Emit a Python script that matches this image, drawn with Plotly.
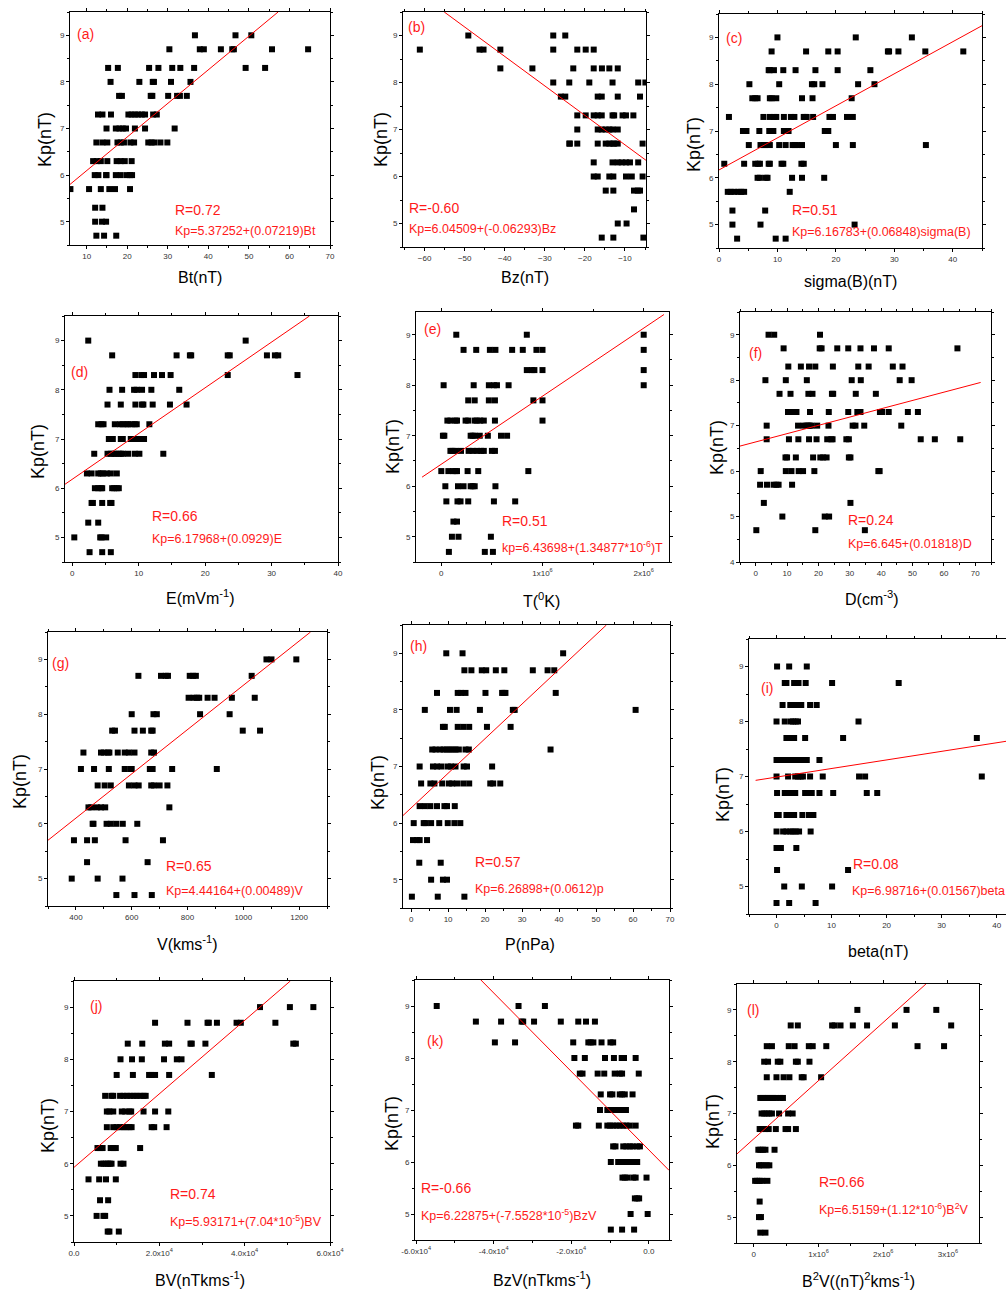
import plotly.graph_objects as go

W, H = 1006, 1296

# ---------------- data (Kp level, x values) ----------------
bt_rows = [
    (9.0, [36.7, 46.7, 50.6]),
    (8.7, [30.4, 37.9, 38.9, 43.1, 45.9, 46.3, 55.7, 64.6]),
    (8.3, [15.3, 17.7, 25.4, 27.7, 31.1, 33.1, 36.5, 49.2, 54.0]),
    (8.0, [15.9, 23.0, 26.3, 26.6, 30.8, 35.6]),
    (7.7, [18.0, 18.7, 25.8, 26.2, 30.1, 32.3, 33.0, 34.7]),
    (7.3, [12.8, 13.9, 16.0, 20.3, 21.1, 21.9, 22.7, 23.6, 24.4, 26.4, 27.3]),
    (7.0, [14.9, 17.2, 18.1, 18.9, 19.7, 21.9, 24.4, 31.7]),
    (6.7, [12.4, 13.9, 15.1, 17.6, 18.4, 19.2, 20.8, 21.7, 25.2, 26.0, 26.7, 28.2, 29.9]),
    (6.3, [11.6, 12.5, 13.5, 15.1, 17.4, 18.4, 19.4, 21.1]),
    (6.0, [12.0, 12.9, 14.8, 14.9, 17.2, 18.4, 19.9, 20.7, 21.2]),
    (5.7, [6.0, 10.6, 13.5, 15.6, 17.0, 20.7]),
    (5.3, [12.1, 13.9]),
    (5.0, [12.1, 13.8, 14.8]),
    (4.7, [12.4, 14.3, 17.3]),
]
bt_fit = ([5.9, 57.2], [5.80, 9.5])

bz_rows = [
    (9.0, [-49.1, -27.9, -24.9]),
    (8.7, [-61.2, -46.3, -45.3, -41.1, -27.9, -21.9, -19.8, -17.8]),
    (8.3, [-41.1, -33.1, -22.9, -17.8, -15.75, -13.9, -11.8]),
    (8.0, [-27.9, -23.9, -18.9, -13.1, -6.7, -4.9]),
    (7.7, [-26.0, -24.9, -16.8, -15.8, -11.8, -6.25]),
    (7.3, [-21.9, -19.8, -17.8, -16.8, -15.8, -13.1, -12.7, -10.6, -9.75, -7.9]),
    (7.0, [-21.9, -16.8, -15.8, -14.8, -13.9, -13.1, -11.8]),
    (6.7, [-23.9, -23.75, -21.9, -16.8, -14.8, -13.9, -13.1, -12.7, -11.8, -5.6]),
    (6.3, [-17.8, -13.1, -11.8, -10.8, -9.75, -8.75, -6.7]),
    (6.0, [-17.8, -16.8, -13.9, -12.9, -9.75, -8.3, -5.6]),
    (5.7, [-14.8, -12.9, -7.75, -6.8, -6.25]),
    (5.3, [-7.75]),
    (5.0, [-11.8, -9.6]),
    (4.7, [-15.8, -12.9, -5.4]),
]
bz_fit = ([-55.1, -4.75], [9.5, 6.345])

sig_rows = [
    (9.0, [10.0, 23.4, 33.0]),
    (8.7, [9.0, 14.9, 18.7, 20.3, 28.9, 29.1, 30.7, 35.3, 41.8]),
    (8.3, [8.5, 8.7, 9.4, 11.0, 13.1, 16.5, 20.3, 25.9]),
    (8.0, [5.2, 10.3, 15.9, 16.3, 17.7, 23.8, 26.6]),
    (7.7, [5.7, 6.2, 6.6, 8.7, 9.0, 9.8, 14.2, 16.0, 22.7]),
    (7.3, [1.7, 7.6, 8.7, 9.4, 9.8, 11.1, 12.3, 12.9, 14.5, 14.7, 15.0, 16.1, 18.9, 19.5, 21.9, 22.9]),
    (7.0, [4.1, 4.7, 6.9, 8.6, 9.0, 9.3, 11.1, 11.7, 11.9, 18.1, 18.7]),
    (6.7, [5.1, 7.1, 7.7, 8.0, 8.7, 10.3, 11.4, 12.6, 13.0, 13.4, 14.2, 20.0, 22.9, 35.4]),
    (6.3, [0.9, 4.3, 6.2, 6.7, 7.0, 8.5, 8.7, 10.7, 11.0, 14.1, 14.5]),
    (6.0, [6.6, 7.0, 8.0, 8.3, 12.5, 14.2, 18.0]),
    (5.7, [1.5, 2.0, 2.6, 3.3, 3.8, 4.3, 12.1]),
    (5.3, [2.3, 7.9]),
    (5.0, [2.3, 7.1, 23.2]),
    (4.7, [3.1, 9.7, 11.4]),
]
sig_fit = ([0.0, 45.0], [6.168, 9.25])

e_rows = [
    (9.0, [2.4, 26.1]),
    (8.7, [6.0, 15.7, 17.7, 17.9, 23.4, 23.7, 29.3, 30.5, 31.0]),
    (8.3, [9.5, 10.4, 10.8, 12.3, 13.5, 14.8, 23.4, 33.9]),
    (8.0, [5.6, 7.5, 9.3, 9.7, 10.5, 11.9, 16.1]),
    (7.7, [5.3, 7.3, 9.5, 10.5, 10.7, 12.1, 14.7, 17.2]),
    (7.3, [3.9, 4.4, 4.7, 6.4, 7.2, 7.6, 8.1, 8.4, 8.9, 9.4, 9.7, 11.6]),
    (7.0, [5.5, 5.8, 6.1, 7.3, 7.6, 8.8, 9.2, 10.0, 10.2, 10.8]),
    (6.7, [3.3, 5.3, 5.8, 6.2, 6.5, 7.0, 7.3, 7.6, 8.4, 9.4, 10.1, 13.7]),
    (6.3, [2.2, 2.9, 3.9, 4.3, 4.6, 5.2, 5.8, 6.7]),
    (6.0, [3.4, 3.9, 4.3, 4.5, 6.0, 6.3, 6.7, 7.0]),
    (5.7, [2.9, 3.1, 4.5, 5.7, 5.9]),
    (5.3, [2.4, 3.9]),
    (5.0, [0.3, 4.2, 4.4, 5.1]),
    (4.7, [2.6, 4.5, 5.8]),
]
e_fit = ([-1.1, 35.7], [6.08, 9.5])

t_rows = [
    (9.0, [0.148e6, 0.845e6, 2.0e6]),
    (8.7, [0.22e6, 0.345e6, 0.48e6, 0.535e6, 0.70e6, 0.805e6, 0.94e6, 1.0e6, 2.0e6]),
    (8.3, [0.845e6, 0.895e6, 0.92e6, 1.0e6, 2.0e6]),
    (8.0, [0.023e6, 0.32e6, 0.47e6, 0.52e6, 0.55e6, 0.665e6, 2.0e6]),
    (7.7, [0.266e6, 0.33e6, 0.47e6, 0.53e6, 0.91e6, 1.0e6]),
    (7.3, [0.06e6, 0.09e6, 0.14e6, 0.155e6, 0.24e6, 0.266e6, 0.33e6, 0.35e6, 0.385e6, 0.42e6, 0.53e6, 1.0e6]),
    (7.0, [0.016e6, 0.03e6, 0.29e6, 0.31e6, 0.33e6, 0.38e6, 0.46e6, 0.59e6, 0.65e6]),
    (6.7, [0.09e6, 0.11e6, 0.14e6, 0.195e6, 0.27e6, 0.31e6, 0.355e6, 0.395e6, 0.42e6, 0.50e6, 0.53e6]),
    (6.3, [0.0, 0.07e6, 0.115e6, 0.14e6, 0.155e6, 0.26e6, 0.365e6, 0.86e6]),
    (6.0, [0.04e6, 0.165e6, 0.22e6, 0.29e6, 0.31e6, 0.33e6, 0.535e6]),
    (5.7, [0.05e6, 0.16e6, 0.19e6, 0.266e6, 0.52e6, 0.73e6]),
    (5.3, [0.12e6, 0.155e6]),
    (5.0, [0.105e6, 0.17e6, 0.49e6]),
    (4.7, [0.075e6, 0.43e6, 0.51e6]),
]
t_fit = ([-0.19e6, 2.2e6], [6.18, 9.40])

d_rows = [
    (9.0, [4.1, 5.9, 20.5]),
    (8.7, [8.9, 20.4, 21.0, 26.0, 29.5, 33.4, 37.7, 42.4, 64.3]),
    (8.3, [10.4, 14.4, 17.0, 19.0, 24.6, 32.7, 36.0, 43.7, 46.8]),
    (8.0, [3.1, 9.6, 16.3, 30.6, 33.5, 45.9, 49.7]),
    (7.7, [7.6, 11.1, 16.8, 18.1, 24.3, 24.7, 31.9, 38.3]),
    (7.3, [10.3, 10.9, 12.1, 13.0, 17.3, 23.3, 29.5, 32.4, 33.4, 39.6, 40.3, 42.4, 48.5, 51.7]),
    (7.0, [3.5, 13.5, 15.3, 16.2, 16.8, 17.2, 17.8, 19.6, 23.2, 30.9, 31.8, 34.6, 46.4]),
    (6.7, [3.5, 10.6, 13.6, 17.0, 19.4, 22.8, 24.1, 24.5, 28.9, 29.7, 52.6, 57.1, 65.2]),
    (6.3, [9.5, 10.0, 12.8, 18.3, 20.6, 21.5, 22.6, 29.7, 30.2]),
    (6.0, [1.6, 9.6, 11.4, 13.7, 15.1, 18.7, 39.1, 39.5]),
    (5.7, [1.4, 3.6, 5.7, 6.6, 7.3, 11.6]),
    (5.3, [2.6, 30.2]),
    (5.0, [8.5, 22.0, 23.4]),
    (4.7, [0.2, 19.0, 34.8]),
]
d_fit = ([-5.0, 71.7], [6.55, 7.95])

v_rows = [
    (9.0, [1083, 1101, 1190]),
    (8.7, [624, 705, 722, 730, 808, 820, 830, 1030]),
    (8.3, [804, 822, 834, 842, 872, 897, 959, 1041]),
    (8.0, [600, 678, 690, 845, 951]),
    (7.7, [530, 540, 610, 640, 670, 675, 998, 1060]),
    (7.3, [427, 490, 500, 515, 520, 550, 575, 590, 610, 670, 680]),
    (7.0, [418, 465, 518, 575, 595, 600, 665, 675, 745, 905]),
    (6.7, [478, 503, 525, 590, 610, 625, 670, 680, 700, 728]),
    (6.3, [445, 455, 475, 490, 505, 735]),
    (6.0, [460, 463, 510, 525, 545, 568, 620]),
    (5.7, [393, 440, 468, 578, 712]),
    (5.3, [440, 657]),
    (5.0, [385, 478, 567]),
    (4.7, [545, 610, 672]),
]
v_fit = ([300, 1241], [5.7, 9.5])

p_rows = [
    (9.0, [9.5, 13.9, 41.1]),
    (8.7, [14.4, 16.3, 19.1, 20.3, 22.9, 25.2, 32.9, 36.9, 38.7]),
    (8.3, [7.0, 12.6, 13.5, 14.7, 20.1, 24.6, 25.0, 25.5, 39.1]),
    (8.0, [3.7, 10.5, 12.3, 18.6, 27.5, 28.0, 60.7]),
    (7.7, [8.6, 9.1, 12.6, 14.1, 15.7, 20.5, 26.9]),
    (7.3, [5.7, 6.6, 7.9, 8.8, 9.7, 10.4, 11.3, 12.0, 12.9, 14.7, 15.6, 37.7]),
    (7.0, [2.3, 5.9, 7.0, 8.2, 9.9, 10.8, 12.0, 14.2, 15.1, 21.9]),
    (6.7, [2.7, 5.2, 6.3, 8.4, 10.2, 11.1, 12.4, 14.1, 15.7, 21.4, 22.2, 24.1]),
    (6.3, [2.3, 3.7, 5.2, 7.0, 9.0, 9.7, 11.8]),
    (6.0, [0.7, 3.4, 3.9, 5.4, 7.6, 9.9, 11.7, 13.3]),
    (5.7, [0.5, 1.6, 2.3, 4.3]),
    (5.3, [2.2, 8.0]),
    (5.0, [5.4, 8.6, 9.7]),
    (4.7, [0.2, 7.2, 14.4]),
]
p_fit = ([-2.2, 52.8], [6.134, 9.5])

beta_rows = [
    (9.0, [0.1, 2.3, 5.5]),
    (8.7, [1.5, 1.8, 3.2, 3.5, 4.0, 5.3, 10.1, 22.2]),
    (8.3, [1.1, 2.5, 3.0, 3.6, 4.0, 4.5, 6.1, 7.3]),
    (8.0, [0.0, 1.5, 2.6, 3.0, 3.5, 3.9, 14.9]),
    (7.7, [1.8, 2.3, 3.0, 3.2, 5.2, 12.1, 36.4]),
    (7.3, [0.0, 0.3, 1.2, 1.5, 2.1, 2.4, 3.0, 3.6, 4.2, 4.8, 5.2, 5.5, 7.8]),
    (7.0, [0.0, 2.1, 3.4, 3.9, 4.4, 4.8, 6.1, 8.4, 15.0, 16.1, 37.3]),
    (6.7, [0.1, 1.5, 1.9, 2.4, 2.9, 3.4, 5.2, 5.8, 6.4, 7.8, 10.3, 16.4, 18.3]),
    (6.3, [0.1, 0.4, 1.8, 2.3, 2.8, 3.2, 4.7, 5.9, 6.7]),
    (6.0, [0.0, 1.2, 1.8, 2.5, 3.0, 3.5, 4.1, 6.2]),
    (5.7, [0.0, 0.4, 0.8, 3.6]),
    (5.3, [0.1, 13.0]),
    (5.0, [1.4, 4.6, 10.1]),
    (4.7, [0.0, 2.3, 7.1]),
]
beta_fit = ([-3.8, 41.7], [6.93, 7.64])

bv_rows = [
    (9.0, [4.36e4, 5.06e4, 5.61e4]),
    (8.7, [1.90e4, 2.66e4, 3.13e4, 3.16e4, 3.35e4, 3.81e4, 3.91e4, 4.72e4]),
    (8.3, [1.26e4, 1.60e4, 2.13e4, 2.23e4, 2.73e4, 2.76e4, 3.08e4, 5.14e4, 5.20e4]),
    (8.0, [1.09e4, 1.36e4, 1.59e4, 2.11e4, 2.41e4, 2.52e4]),
    (7.7, [1.00e4, 1.38e4, 1.76e4, 1.82e4, 1.90e4, 2.23e4, 3.23e4]),
    (7.3, [0.73e4, 0.875e4, 0.92e4, 1.08e4, 1.16e4, 1.24e4, 1.32e4, 1.40e4, 1.47e4, 1.55e4, 1.63e4, 1.68e4]),
    (7.0, [0.77e4, 0.83e4, 0.92e4, 1.12e4, 1.20e4, 1.30e4, 1.34e4, 1.63e4, 1.90e4, 2.21e4]),
    (6.7, [0.77e4, 0.92e4, 1.00e4, 1.08e4, 1.16e4, 1.22e4, 1.30e4, 1.35e4, 1.82e4, 1.88e4, 2.17e4]),
    (6.3, [0.55e4, 0.61e4, 0.67e4, 0.86e4, 0.92e4, 0.98e4, 1.55e4]),
    (6.0, [0.63e4, 0.69e4, 0.75e4, 0.80e4, 0.84e4, 0.88e4, 1.09e4, 1.16e4]),
    (5.7, [0.34e4, 0.59e4, 0.75e4, 0.98e4]),
    (5.3, [0.61e4, 0.80e4]),
    (5.0, [0.53e4, 0.69e4, 0.73e4]),
    (4.7, [0.79e4, 0.83e4, 1.05e4]),
]
bv_fit = ([0.0, 5.07e4], [5.93, 9.5])

bzv_rows = [
    (9.0, [-5.47e4, -3.36e4, -2.68e4]),
    (8.7, [-4.46e4, -3.81e4, -3.28e4, -3.24e4, -2.96e4, -2.27e4, -1.82e4, -1.62e4, -1.39e4]),
    (8.3, [-3.97e4, -3.45e4, -1.95e4, -1.56e4, -1.50e4, -1.43e4, -1.22e4, -0.99e4, -0.92e4]),
    (8.0, [-1.92e4, -1.65e4, -1.13e4, -0.90e4, -0.70e4, -0.64e4, -0.34e4]),
    (7.7, [-1.78e4, -1.71e4, -1.32e4, -1.15e4, -0.88e4, -0.75e4, -0.69e4, -0.26e4]),
    (7.3, [-1.24e4, -1.00e4, -0.94e4, -0.75e4, -0.69e4, -0.62e4, -0.42e4]),
    (7.0, [-1.26e4, -1.07e4, -1.00e4, -0.92e4, -0.83e4, -0.75e4, -0.66e4, -0.59e4]),
    (6.7, [-1.88e4, -1.82e4, -1.29e4, -1.07e4, -1.00e4, -0.92e4, -0.83e4, -0.75e4, -0.66e4, -0.58e4, -0.49e4, -0.34e4]),
    (6.3, [-0.92e4, -0.86e4, -0.66e4, -0.58e4, -0.49e4, -0.42e4, -0.30e4, -0.23e4]),
    (6.0, [-0.98e4, -0.79e4, -0.70e4, -0.64e4, -0.49e4, -0.42e4, -0.30e4]),
    (5.7, [-0.68e4, -0.62e4, -0.55e4, -0.40e4, -0.34e4, -0.06e4]),
    (5.3, [-0.36e4, -0.30e4, -0.25e4]),
    (5.0, [-0.47e4, -0.03e4]),
    (4.7, [-0.98e4, -0.69e4, -0.38e4]),
]
bzv_fit = ([-4.33e4, 0.52e4], [9.5, 5.84])

b2v_rows = [
    (9.0, [1.60e6, 2.36e6, 2.82e6]),
    (8.7, [0.57e6, 0.68e6, 1.21e6, 1.25e6, 1.34e6, 1.53e6, 1.75e6, 2.18e6, 3.05e6]),
    (8.3, [0.20e6, 0.28e6, 0.54e6, 0.63e6, 0.85e6, 0.91e6, 1.12e6, 2.53e6, 2.94e6]),
    (8.0, [0.16e6, 0.22e6, 0.37e6, 0.41e6, 0.65e6, 0.68e6, 0.86e6]),
    (7.7, [0.20e6, 0.35e6, 0.46e6, 0.55e6, 0.74e6, 0.77e6, 1.04e6]),
    (7.3, [0.10e6, 0.14e6, 0.18e6, 0.22e6, 0.26e6, 0.30e6, 0.34e6, 0.41e6, 0.45e6]),
    (7.0, [0.12e6, 0.16e6, 0.20e6, 0.24e6, 0.28e6, 0.39e6, 0.53e6, 0.60e6]),
    (6.7, [0.09e6, 0.12e6, 0.18e6, 0.23e6, 0.34e6, 0.49e6, 0.53e6, 0.65e6]),
    (6.3, [0.07e6, 0.10e6, 0.14e6, 0.18e6, 0.32e6]),
    (6.0, [0.08e6, 0.11e6, 0.15e6, 0.20e6, 0.24e6]),
    (5.7, [0.02e6, 0.05e6, 0.09e6, 0.13e6, 0.21e6]),
    (5.3, [0.09e6]),
    (5.0, [0.08e6, 0.11e6]),
    (4.7, [0.10e6, 0.18e6]),
]
b2v_fit = ([-0.26e6, 2.66e6], [6.22, 9.5])

# ---------------- panel configuration ----------------
panels = [
    dict(rows=bt_rows, fit=bt_fit, box=(70, 330, 12, 245), xr=[5.9, 70], yr=[4.5, 9.5],
         xt=[10, 20, 30, 40, 50, 60, 70], xtt=None, xminor=5,
         xtitle="Bt(nT)", xtp=(200, 277), ytp=(45, 140),
         lab="(a)", labp=(75, 34), r="R=0.72", rp=(173, 210),
         eq="Kp=5.37252+(0.07219)Bt", eqp=(173, 231)),
    dict(rows=bz_rows, fit=bz_fit, box=(403, 646, 12, 247), xr=[-65.4, -4.75], yr=[4.5, 9.5],
         xt=[-60, -50, -40, -30, -20, -10], xtt=None, xminor=5,
         xtitle="Bz(nT)", xtp=(525, 278), ytp=(381, 140),
         lab="(b)", labp=(406, 27), r="R=-0.60", rp=(407, 208),
         eq="Kp=6.04509+(-0.06293)Bz", eqp=(407, 229)),
    dict(rows=sig_rows, fit=sig_fit, box=(719, 982, 14, 248), xr=[0, 45], yr=[4.5, 9.5],
         xt=[0, 10, 20, 30, 40], xtt=None, xminor=5,
         xtitle="sigma(B)(nT)", xtp=(850, 281), ytp=(694, 145),
         lab="(c)", labp=(724, 38), r="R=0.51", rp=(790, 210),
         eq="Kp=6.16783+(0.06848)sigma(B)", eqp=(790, 232)),
    dict(rows=e_rows, fit=e_fit, box=(65, 338, 316, 562), xr=[-1.1, 40], yr=[4.5, 9.5],
         xt=[0, 10, 20, 30, 40], xtt=None, xminor=5,
         xtitle="E(mVm<sup>-1</sup>)", xtp=(200, 597), ytp=(38, 452),
         lab="(d)", labp=(69, 372), r="R=0.66", rp=(150, 516),
         eq="Kp=6.17968+(0.0929)E", eqp=(150, 539)),
    dict(rows=t_rows, fit=t_fit, box=(416, 669, 312, 562), xr=[-0.25e6, 2.25e6], yr=[4.5, 9.45],
         xt=[0, 1e6, 2e6], xtt=["0", "1x10<sup>6</sup>", "2x10<sup>6</sup>"], xminor=0.5e6,
         xtitle="T(<sup>0</sup>K)", xtp=(541, 600), ytp=(393, 447),
         lab="(e)", labp=(422, 329), r="R=0.51", rp=(500, 521),
         eq="kp=6.43698+(1.34877*10<sup>-6</sup>)T", eqp=(500, 547)),
    dict(rows=d_rows, fit=d_fit, box=(740, 991, 312, 562), xr=[-5, 75], yr=[4, 9.5],
         xt=[0, 10, 20, 30, 40, 50, 60, 70], xtt=None, xminor=5,
         xtitle="D(cm<sup>-3</sup>)", xtp=(872, 598), ytp=(717, 448),
         lab="(f)", labp=(747, 353), r="R=0.24", rp=(846, 520),
         eq="Kp=6.645+(0.01818)D", eqp=(846, 544)),
    dict(rows=v_rows, fit=v_fit, box=(48, 327, 632, 906), xr=[300, 1300], yr=[4.5, 9.5],
         xt=[400, 600, 800, 1000, 1200], xtt=None, xminor=100,
         xtitle="V(kms<sup>-1</sup>)", xtp=(187, 943), ytp=(20, 782),
         lab="(g)", labp=(50, 663), r="R=0.65", rp=(164, 866),
         eq="Kp=4.44164+(0.00489)V", eqp=(164, 891)),
    dict(rows=p_rows, fit=p_fit, box=(403, 670, 625, 908), xr=[-2.2, 70], yr=[4.5, 9.5],
         xt=[0, 10, 20, 30, 40, 50, 60, 70], xtt=None, xminor=5,
         xtitle="P(nPa)", xtp=(530, 944), ytp=(378, 783),
         lab="(h)", labp=(408, 646), r="R=0.57", rp=(473, 862),
         eq="Kp=6.26898+(0.0612)p", eqp=(473, 889)),
    dict(rows=beta_rows, fit=beta_fit, box=(749, 1006, 639, 914), xr=[-5, 41.7], yr=[4.5, 9.5],
         xt=[0, 10, 20, 30, 40], xtt=None, xminor=5,
         xtitle="beta(nT)", xtp=(878, 951), ytp=(723, 795),
         lab="(i)", labp=(759, 688), r="R=0.08", rp=(851, 864),
         eq="Kp=6.98716+(0.01567)beta", eqp=(850, 891)),
    dict(rows=bv_rows, fit=bv_fit, box=(74, 330, 981, 1242), xr=[0, 6e4], yr=[4.5, 9.5],
         xt=[0, 2e4, 4e4, 6e4], xtt=["0.0", "2.0x10<sup>4</sup>", "4.0x10<sup>4</sup>", "6.0x10<sup>4</sup>"], xminor=1e4,
         xtitle="BV(nTkms<sup>-1</sup>)", xtp=(200, 1279), ytp=(48, 1126),
         lab="(j)", labp=(88, 1006), r="R=0.74", rp=(168, 1194),
         eq="Kp=5.93171+(7.04*10<sup>-5</sup>)BV", eqp=(168, 1221)),
    dict(rows=bzv_rows, fit=bzv_fit, box=(415, 669, 980, 1240), xr=[-6.03e4, 0.52e4], yr=[4.5, 9.5],
         xt=[-6e4, -4e4, -2e4, 0], xtt=["-6.0x10<sup>4</sup>", "-4.0x10<sup>4</sup>", "-2.0x10<sup>4</sup>", "0.0"], xminor=1e4,
         xtitle="BzV(nTkms<sup>-1</sup>)", xtp=(542, 1279), ytp=(392, 1124),
         lab="(k)", labp=(425, 1041), r="R=-0.66", rp=(419, 1188),
         eq="Kp=6.22875+(-7.5528*10<sup>-5</sup>)BzV", eqp=(419, 1215)),
    dict(rows=b2v_rows, fit=b2v_fit, box=(737, 979, 984, 1243), xr=[-0.26e6, 3.48e6], yr=[4.5, 9.5],
         xt=[0, 1e6, 2e6, 3e6], xtt=["0", "1x10<sup>6</sup>", "2x10<sup>6</sup>", "3x10<sup>6</sup>"], xminor=0.5e6,
         xtitle="B<sup>2</sup>V((nT)<sup>2</sup>kms<sup>-1</sup>)", xtp=(858, 1280), ytp=(713, 1122),
         lab="(l)", labp=(745, 1010), r="R=0.66", rp=(817, 1182),
         eq="Kp=6.5159+(1.12*10<sup>-6</sup>)B<sup>2</sup>V", eqp=(817, 1209)),
]

FONT = "Liberation Sans, Arial, sans-serif"
RED = "#ff1a1a"


def px(x):
    return x / W


def py(y):
    return 1 - y / H


fig = go.Figure()
annotations = []
layout_axes = {}

for i, p in enumerate(panels):
    n = i + 1
    xa = "x" if n == 1 else f"x{n}"
    ya = "y" if n == 1 else f"y{n}"
    xs, ys = [], []
    for kp, vals in p["rows"]:
        xs.extend(vals)
        ys.extend([kp] * len(vals))
    fig.add_trace(go.Scatter(x=xs, y=ys, mode="markers", xaxis=xa, yaxis=ya,
                             marker=dict(symbol="square", size=6, color="black",
                                         line=dict(width=0)),
                             showlegend=False, hoverinfo="skip"))
    fig.add_trace(go.Scatter(x=p["fit"][0], y=p["fit"][1], mode="lines", xaxis=xa, yaxis=ya,
                             line=dict(color="red", width=1), showlegend=False, hoverinfo="skip"))
    x0, x1, y0, y1 = p["box"]
    xkey = "xaxis" if n == 1 else f"xaxis{n}"
    ykey = "yaxis" if n == 1 else f"yaxis{n}"
    yt = list(range(int(round(p["yr"][0] + 0.5)), 10))
    common = dict(showgrid=False, zeroline=False, showline=True, linecolor="black", linewidth=1,
                  mirror="ticks", ticks="outside", ticklen=3, tickcolor="black", automargin=False,
                  tickfont=dict(family=FONT, size=8, color="#333"))
    xaxis = dict(domain=[px(x0), min(px(x1), 1.0)], range=p["xr"], anchor=ya,
                 tickvals=p["xt"], minor=dict(ticks="outside", ticklen=2, dtick=p["xminor"],
                                              tick0=0, tickcolor="black"), **common)
    if p["xtt"]:
        xaxis["ticktext"] = p["xtt"]
    yaxis = dict(domain=[py(y1), py(y0)], range=p["yr"], anchor=xa,
                 tickvals=yt, minor=dict(ticks="outside", ticklen=2, dtick=0.5, tick0=0,
                                         tickcolor="black"), **common)
    layout_axes[xkey] = xaxis
    layout_axes[ykey] = yaxis

    annotations.append(dict(text=p["xtitle"], x=px(p["xtp"][0]), y=py(p["xtp"][1]),
                            xref="paper", yref="paper", showarrow=False,
                            xanchor="center", yanchor="middle",
                            font=dict(family=FONT, size=16, color="black")))
    annotations.append(dict(text="Kp(nT)", x=px(p["ytp"][0]), y=py(p["ytp"][1]),
                            xref="paper", yref="paper", showarrow=False, textangle=-90,
                            xanchor="center", yanchor="middle",
                            font=dict(family=FONT, size=18, color="black")))
    annotations.append(dict(text=p["lab"], x=px(p["labp"][0]), y=py(p["labp"][1]),
                            xref="paper", yref="paper", showarrow=False,
                            xanchor="left", yanchor="middle",
                            font=dict(family=FONT, size=14, color=RED)))
    annotations.append(dict(text=p["r"], x=px(p["rp"][0]), y=py(p["rp"][1]),
                            xref="paper", yref="paper", showarrow=False,
                            xanchor="left", yanchor="middle",
                            font=dict(family=FONT, size=14, color=RED)))
    annotations.append(dict(text=p["eq"], x=px(p["eqp"][0]), y=py(p["eqp"][1]),
                            xref="paper", yref="paper", showarrow=False,
                            xanchor="left", yanchor="middle",
                            font=dict(family=FONT, size=12.5, color=RED)))

fig.update_layout(template="none", width=W, height=H, margin=dict(l=0, r=0, t=0, b=0),
                  paper_bgcolor="white", plot_bgcolor="white",
                  annotations=annotations, **layout_axes)

fig.write_html("out.html", config={"displayModeBar": False},
               post_script="document.body.style.margin='0px';"
                           "document.body.style.overflow='hidden';")
